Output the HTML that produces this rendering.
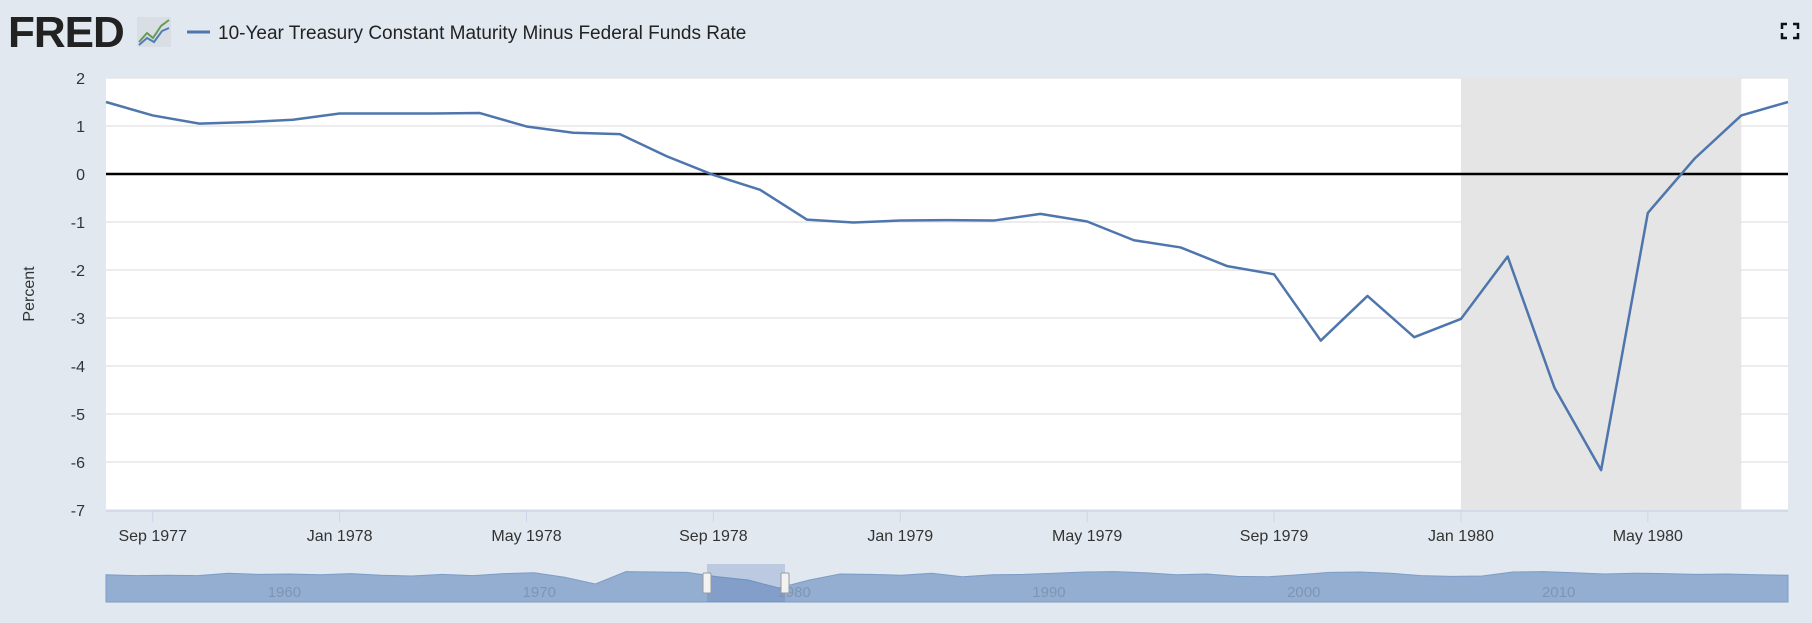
<!DOCTYPE html>
<html><head><meta charset="utf-8">
<style>
body{margin:0;background:#e1e8f0;width:1812px;height:618px;overflow:hidden;font-family:"Liberation Sans",sans-serif;}
svg text{font-family:"Liberation Sans",sans-serif;}
</style></head>
<body>
<svg id="chart" width="1812" height="618">
  <text x="8" y="47" font-size="44" font-weight="bold" fill="#222" letter-spacing="-1">FRED</text>
  <rect x="137" y="17" width="34" height="30" fill="#d8dee4"/>
  <polyline points="139,42 147,33 153,38 161,26 169,20" fill="none" stroke="#6a9a5a" stroke-width="2"/>
  <polyline points="139,45 147,38 154,42 162,31 169,28" fill="none" stroke="#4e7fb5" stroke-width="2"/>
  <line x1="187" y1="32" x2="210" y2="32" stroke="#4e76ad" stroke-width="3"/>
  <text x="218" y="39" font-size="19" fill="#222">10-Year Treasury Constant Maturity Minus Federal Funds Rate</text>
  <g stroke="#111" stroke-width="2.5" fill="none">
    <polyline points="1782,29 1782,24 1787,24"/><polyline points="1793,24 1798,24 1798,29"/>
    <polyline points="1782,33 1782,38 1787,38"/><polyline points="1793,38 1798,38 1798,33"/>
  </g>
  <rect x="106" y="78" width="1682" height="432" fill="#fff"/>
  <g id="grid"></g>
  <g id="shade"></g>
  <g id="zero"></g>
  <g id="series"></g>
  <g id="yticks"></g>
  <g id="xticks"></g>
  <text transform="translate(34,294) rotate(-90)" text-anchor="middle" font-size="16" fill="#333">Percent</text>
  <g id="nav"></g>
</svg>
<script>
const months = 36; // Aug 1977 .. Aug 1980
const values = [1.5,1.22,1.05,1.08,1.13,1.26,1.26,1.26,1.27,0.99,0.86,0.83,0.37,-0.02,-0.33,-0.95,-1.01,-0.97,-0.96,-0.97,-0.83,-0.99,-1.38,-1.53,-1.92,-2.09,-3.47,-2.54,-3.40,-3.02,-1.72,-4.45,-6.17,-0.81,0.32,1.22,1.50];
const yTicks = [2,1,0,-1,-2,-3,-4,-5,-6,-7];
const xTickLabels = ["Sep 1977","Jan 1978","May 1978","Sep 1978","Jan 1979","May 1979","Sep 1979","Jan 1980","May 1980"];
const xTickIndex = [1,5,9,13,17,21,25,29,33];
const recession = [29,35];
const navValues = [0.8,0.6,0.7,0.6,1.2,0.9,1.0,0.8,1.1,0.7,0.5,0.9,0.6,1.1,1.3,0.2,-1.5,1.6,1.5,1.4,0.3,-0.5,-2.5,-0.5,1.0,0.9,0.7,1.2,0.3,0.8,0.9,1.2,1.5,1.6,1.3,0.8,1.0,0.4,0.3,0.8,1.4,1.5,1.2,0.6,0.4,0.5,1.5,1.6,1.3,1.0,1.2,1.1,0.9,1.0,0.8,0.7];
const navLabels = ["1960","1970","1980","1990","2000","2010"];
const navLabelYears = [1960,1970,1980,1990,2000,2010];

const L=106,R=1788,T=78,B=510;
const x = i => L + i*(R-L)/months;
const y = v => T + (2-v)*(B-T)/9;
const NS="http://www.w3.org/2000/svg";
function mk(tag,attrs,parent,txt){const e=document.createElementNS(NS,tag);for(const k in attrs)e.setAttribute(k,attrs[k]);if(txt!==undefined)e.textContent=txt;document.getElementById(parent).appendChild(e);return e;}

yTicks.forEach(v=>{
  const g=mk('line',{x1:L,x2:R,y1:y(v),y2:y(v),stroke:'#e6e6e6','stroke-width':1.5},'grid');
  
  
  const t=mk('text',{x:85,y:y(v)+6,'text-anchor':'end','font-size':16,fill:'#333'},'yticks',String(v));
  
  
});
const sh=mk('rect',{x:x(recession[0]),y:T,width:x(recession[1])-x(recession[0]),height:B-T,fill:'#e5e5e5'},'shade');


const z=mk('line',{x1:L,x2:R,y1:y(0),y2:y(0),stroke:'#000','stroke-width':2.5},'zero');


const ax=mk('line',{x1:L,x2:R,y1:B+1,y2:B+1,stroke:'#ccd6eb','stroke-width':1.5},'xticks');


xTickIndex.forEach((m,i)=>{
  const tl=mk('line',{x1:x(m),x2:x(m),y1:B,y2:B+12,stroke:'#ccd6eb'},'xticks');
  
  
  const t=mk('text',{x:x(m),y:541,'text-anchor':'middle','font-size':16,fill:'#333'},'xticks',xTickLabels[i]);
  
  
});
const pl=mk('polyline',{points:values.map((v,i)=>x(i)+','+y(v)).join(' '),fill:'none',stroke:'#4e76ad','stroke-width':2.5,'stroke-linejoin':'round'},'series');



// navigator
const NT=564,NB=602;
const nx=i=>L+i*(R-L)/(navValues.length-1);
const ny=v=>NT+10-(v-1)*4;
const bg=mk('rect',{x:L,y:NT,width:R-L,height:NB-NT,fill:'#e1e8f0'},'nav');


const area=mk('path',{d:'M'+L+','+NB+' '+navValues.map((v,i)=>'L'+nx(i)+','+ny(v)).join(' ')+' L'+R+','+NB+' Z',fill:'#93aed0',stroke:'#7d9cc6'},'nav');


const sel=mk('rect',{x:707,y:NT,width:78,height:NB-NT,fill:'rgba(80,110,180,0.25)'},'nav');


const yr=y0=>L+(y0-1953)*(R-L)/(2019-1953);
navLabelYears.forEach((yy,i)=>{
  const t=mk('text',{x:yr(yy),y:597,'text-anchor':'middle','font-size':15,fill:'#7f95b5'},'nav',navLabels[i]);
  
  
});
[707,785].forEach(hx=>{
  const h=mk('rect',{x:hx-4,y:573,width:8,height:20,fill:'#f2f2f2',stroke:'#999',rx:1},'nav');
  
  
});
</script>
</body></html>
